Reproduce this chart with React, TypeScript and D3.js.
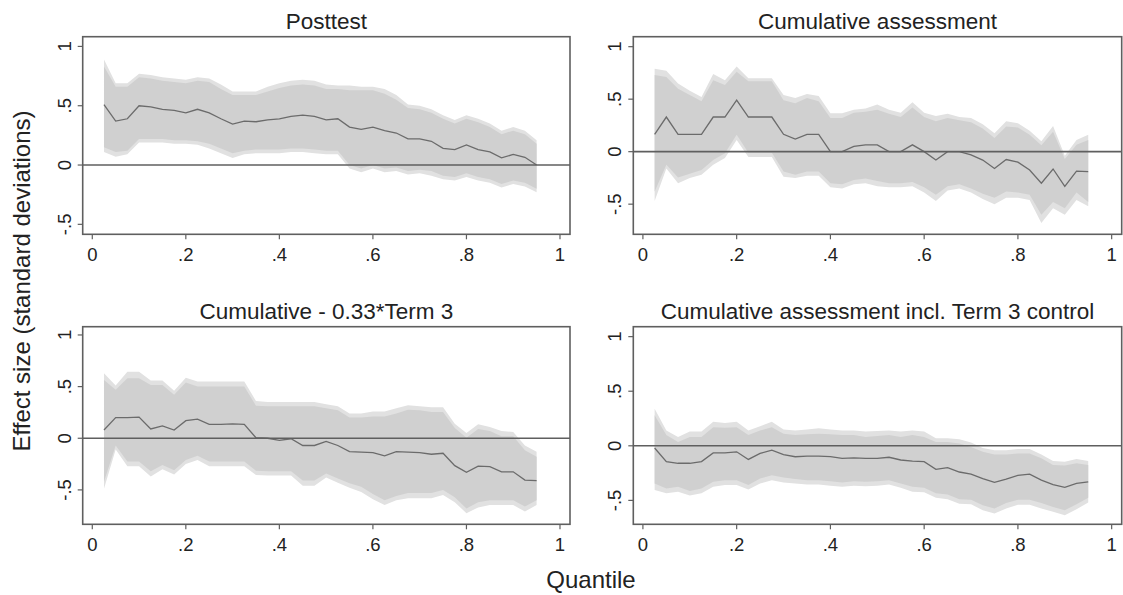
import React from "react";
import * as d3 from "d3";

// quantile grid used in every panel
const quantiles = [
  0.025, 0.05, 0.075, 0.1, 0.125, 0.15, 0.175, 0.2, 0.225, 0.25,
  0.275, 0.3, 0.325, 0.35, 0.375, 0.4, 0.425, 0.45, 0.475, 0.5,
  0.525, 0.55, 0.575, 0.6, 0.625, 0.65, 0.675, 0.7, 0.725, 0.75,
  0.775, 0.8, 0.825, 0.85, 0.875, 0.9, 0.925, 0.95,
];

const panelTitles = [
  "Posttest",
  "Cumulative assessment",
  "Cumulative - 0.33*Term 3",
  "Cumulative assessment incl. Term 3 control",
];

// Posttest
const postEst = [0.51,0.37,0.39,0.5,0.49,0.47,0.46,0.44,0.47,0.44,0.39,0.345,0.37,0.365,0.38,0.39,0.41,0.42,0.41,0.38,0.39,0.32,0.3,0.32,0.29,0.27,0.22,0.22,0.2,0.14,0.13,0.17,0.13,0.11,0.06,0.09,0.065,0.0];
const postInnerHi = [0.83,0.66,0.66,0.74,0.73,0.71,0.7,0.69,0.71,0.7,0.64,0.59,0.59,0.59,0.62,0.65,0.67,0.68,0.67,0.64,0.64,0.63,0.63,0.63,0.6,0.55,0.48,0.47,0.44,0.39,0.35,0.39,0.36,0.32,0.26,0.29,0.26,0.18];
const postInnerLo = [0.15,0.11,0.12,0.22,0.22,0.22,0.21,0.21,0.2,0.18,0.14,0.1,0.12,0.13,0.13,0.13,0.14,0.14,0.13,0.12,0.12,0.0,-0.03,0.0,-0.03,-0.02,-0.05,-0.04,-0.05,-0.09,-0.1,-0.07,-0.1,-0.12,-0.16,-0.13,-0.15,-0.2];
const postOuterHi = [0.89,0.69,0.69,0.77,0.76,0.74,0.73,0.72,0.74,0.73,0.68,0.62,0.62,0.62,0.66,0.69,0.71,0.72,0.71,0.68,0.67,0.67,0.66,0.66,0.64,0.59,0.51,0.5,0.47,0.42,0.38,0.42,0.39,0.35,0.29,0.32,0.29,0.21];
const postOuterLo = [0.11,0.07,0.09,0.19,0.19,0.19,0.18,0.18,0.17,0.14,0.1,0.06,0.09,0.1,0.1,0.1,0.11,0.11,0.1,0.09,0.09,-0.03,-0.06,-0.03,-0.06,-0.05,-0.08,-0.07,-0.09,-0.12,-0.13,-0.1,-0.13,-0.15,-0.19,-0.16,-0.18,-0.23];

// Cumulative assessment
const cumEst = [0.165,0.33,0.165,0.165,0.165,0.33,0.33,0.49,0.33,0.33,0.33,0.165,0.12,0.165,0.165,0,0,0.05,0.065,0.065,0,0,0.065,0,-0.08,0,0,-0.03,-0.08,-0.16,-0.075,-0.1,-0.175,-0.3,-0.165,-0.33,-0.185,-0.19];
const cumInnerHi = [0.73,0.71,0.6,0.54,0.48,0.68,0.635,0.76,0.67,0.67,0.67,0.49,0.46,0.51,0.48,0.32,0.32,0.37,0.38,0.4,0.36,0.33,0.42,0.33,0.29,0.32,0.3,0.28,0.22,0.13,0.24,0.23,0.16,0.06,0.19,-0.07,0.065,0.11];
const cumInnerLo = [-0.38,-0.125,-0.245,-0.21,-0.175,-0.08,-0.015,0.16,-0.01,-0.01,-0.01,-0.19,-0.22,-0.19,-0.19,-0.3,-0.31,-0.27,-0.255,-0.28,-0.3,-0.3,-0.29,-0.34,-0.41,-0.33,-0.31,-0.35,-0.4,-0.44,-0.38,-0.39,-0.41,-0.6,-0.48,-0.54,-0.39,-0.48];
const cumOuterHi = [0.79,0.77,0.65,0.58,0.52,0.74,0.68,0.81,0.7,0.7,0.7,0.54,0.51,0.55,0.53,0.365,0.365,0.4,0.41,0.45,0.4,0.37,0.47,0.37,0.34,0.36,0.33,0.32,0.26,0.175,0.29,0.27,0.2,0.1,0.245,-0.04,0.11,0.16];
const cumOuterLo = [-0.47,-0.16,-0.3,-0.25,-0.22,-0.125,-0.06,0.11,-0.05,-0.05,-0.05,-0.24,-0.25,-0.23,-0.23,-0.34,-0.35,-0.31,-0.3,-0.33,-0.34,-0.34,-0.33,-0.39,-0.47,-0.37,-0.35,-0.39,-0.45,-0.5,-0.44,-0.44,-0.46,-0.68,-0.54,-0.6,-0.46,-0.52];

// Cumulative - 0.33*Term 3
const adjEst = [0.08,0.2,0.2,0.205,0.09,0.12,0.08,0.17,0.185,0.135,0.135,0.14,0.135,0.005,0,-0.02,-0.005,-0.07,-0.07,-0.03,-0.07,-0.13,-0.135,-0.14,-0.17,-0.13,-0.135,-0.14,-0.155,-0.145,-0.265,-0.33,-0.27,-0.275,-0.325,-0.325,-0.405,-0.41];
const adjInnerHi = [0.565,0.47,0.58,0.58,0.515,0.515,0.42,0.54,0.5,0.5,0.5,0.5,0.5,0.315,0.31,0.31,0.31,0.31,0.31,0.29,0.27,0.2,0.2,0.21,0.21,0.24,0.275,0.27,0.255,0.255,0.1,0.005,0.09,0.07,0.02,0.02,-0.115,-0.18];
const adjInnerLo = [-0.42,-0.07,-0.225,-0.225,-0.32,-0.26,-0.31,-0.21,-0.17,-0.225,-0.225,-0.225,-0.225,-0.315,-0.32,-0.32,-0.32,-0.41,-0.41,-0.34,-0.39,-0.435,-0.47,-0.54,-0.6,-0.56,-0.53,-0.53,-0.53,-0.5,-0.57,-0.68,-0.62,-0.6,-0.6,-0.6,-0.66,-0.6];
const adjOuterHi = [0.63,0.51,0.645,0.645,0.56,0.56,0.46,0.585,0.55,0.55,0.55,0.55,0.55,0.36,0.35,0.35,0.35,0.35,0.35,0.33,0.31,0.24,0.24,0.26,0.26,0.29,0.32,0.31,0.3,0.3,0.14,0.05,0.135,0.11,0.07,0.06,-0.07,-0.13];
const adjOuterLo = [-0.49,-0.11,-0.27,-0.27,-0.37,-0.3,-0.35,-0.25,-0.21,-0.27,-0.27,-0.27,-0.27,-0.355,-0.36,-0.36,-0.36,-0.46,-0.46,-0.38,-0.43,-0.48,-0.52,-0.59,-0.645,-0.6,-0.58,-0.58,-0.58,-0.55,-0.62,-0.725,-0.67,-0.645,-0.645,-0.645,-0.71,-0.645];

// Cumulative assessment incl. Term 3 control
const ctlEst = [-0.02,-0.145,-0.16,-0.16,-0.145,-0.065,-0.065,-0.055,-0.125,-0.07,-0.04,-0.08,-0.1,-0.095,-0.095,-0.1,-0.115,-0.11,-0.115,-0.115,-0.105,-0.13,-0.14,-0.145,-0.215,-0.2,-0.24,-0.26,-0.3,-0.335,-0.305,-0.27,-0.26,-0.315,-0.355,-0.38,-0.345,-0.33];
const ctlInnerHi = [0.28,0.1,0.035,0.08,0.08,0.17,0.165,0.17,0.1,0.14,0.17,0.11,0.1,0.105,0.11,0.105,0.1,0.1,0.08,0.09,0.1,0.08,0.1,0.08,0.035,0.035,0.02,-0.01,-0.055,-0.08,-0.08,-0.07,-0.07,-0.115,-0.175,-0.18,-0.16,-0.175];
const ctlInnerLo = [-0.345,-0.39,-0.375,-0.415,-0.39,-0.33,-0.315,-0.315,-0.36,-0.3,-0.27,-0.29,-0.305,-0.315,-0.315,-0.325,-0.335,-0.325,-0.33,-0.325,-0.315,-0.345,-0.375,-0.385,-0.435,-0.445,-0.49,-0.495,-0.545,-0.575,-0.525,-0.495,-0.495,-0.525,-0.56,-0.59,-0.535,-0.475];
const ctlOuterHi = [0.34,0.14,0.08,0.13,0.13,0.22,0.21,0.22,0.14,0.18,0.22,0.15,0.14,0.15,0.16,0.15,0.14,0.14,0.13,0.135,0.14,0.13,0.14,0.13,0.07,0.07,0.06,0.03,-0.02,-0.04,-0.04,-0.03,-0.03,-0.08,-0.14,-0.145,-0.12,-0.14];
const ctlOuterLo = [-0.405,-0.435,-0.42,-0.455,-0.435,-0.375,-0.36,-0.36,-0.4,-0.345,-0.315,-0.335,-0.345,-0.355,-0.355,-0.365,-0.375,-0.365,-0.37,-0.365,-0.355,-0.385,-0.42,-0.425,-0.475,-0.49,-0.53,-0.535,-0.59,-0.62,-0.575,-0.54,-0.54,-0.575,-0.605,-0.635,-0.58,-0.52];

const xTicks = [0, 0.2, 0.4, 0.6, 0.8, 1];
const xTickLabels = ["0", ".2", ".4", ".6", ".8", "1"];
const yTicks = [-0.5, 0, 0.5, 1];
const yTickLabels = ["-.5", "0", ".5", "1"];
const xRange = [-0.0205, 1.0214];
const yRanges = [
  [-0.584, 1.082],
  [-0.787, 1.095],
  [-0.833, 1.08],
  [-0.719, 1.091],
];

const panelData = [
  { est: postEst, iLo: postInnerLo, iHi: postInnerHi, oLo: postOuterLo, oHi: postOuterHi },
  { est: cumEst, iLo: cumInnerLo, iHi: cumInnerHi, oLo: cumOuterLo, oHi: cumOuterHi },
  { est: adjEst, iLo: adjInnerLo, iHi: adjInnerHi, oLo: adjOuterLo, oHi: adjOuterHi },
  { est: ctlEst, iLo: ctlInnerLo, iHi: ctlInnerHi, oLo: ctlOuterLo, oHi: ctlOuterHi },
];

const W = 1123;
const H = 595;
const FONT = "'Liberation Sans', Arial, sans-serif";
const colX = [[82.7, 570], [633.3, 1121.7]];
const rowY = [[36.7, 234.3], [326.7, 524.3]];

const FRAME = "#5f5f5f";

function Panel({ idx }: { idx: number }) {
  const [x0, x1] = colX[idx % 2];
  const [y0, y1] = rowY[Math.floor(idx / 2)];
  const d = panelData[idx];
  const x = d3.scaleLinear().domain(xRange).range([x0, x1]);
  const y = d3.scaleLinear().domain(yRanges[idx]).range([y1, y0]);

  const outer = d3
    .area<number>()
    .x((q) => x(q))
    .y0((_, i) => y(d.oLo[i]))
    .y1((_, i) => y(d.oHi[i]));
  const inner = d3
    .area<number>()
    .x((q) => x(q))
    .y0((_, i) => y(d.iLo[i]))
    .y1((_, i) => y(d.iHi[i]));
  const line = d3
    .line<number>()
    .x((q) => x(q))
    .y((_, i) => y(d.est[i]));

  return (
    <g>
      <text
        x={(x0 + x1) / 2}
        y={y0 - 7.5}
        textAnchor="middle"
        fontSize={22.5}
        fill="#222"
        fontFamily={FONT}
      >
        {panelTitles[idx]}
      </text>
      <path d={outer(quantiles) || ""} fill="#e1e1e1" stroke="none" />
      <path d={inner(quantiles) || ""} fill="#d0d0d0" stroke="none" />
      <path d={line(quantiles) || ""} fill="none" stroke="#6b6b6b" strokeWidth={1.3} />
      <line x1={x0} x2={x1} y1={y(0)} y2={y(0)} stroke={FRAME} strokeWidth={1.6} />
      <rect x={x0} y={y0} width={x1 - x0} height={y1 - y0} fill="none" stroke={FRAME} strokeWidth={1.6} />
      {xTicks.map((t, i) => (
        <g key={"x" + i}>
          <line x1={x(t)} x2={x(t)} y1={y1} y2={y1 + 5} stroke={FRAME} strokeWidth={1.2} />
          <text x={x(t)} y={y1 + 27} textAnchor="middle" fontSize={18.5} fill="#222" fontFamily={FONT}>
            {xTickLabels[i]}
          </text>
        </g>
      ))}
      {yTicks.map((t, i) => (
        <g key={"y" + i}>
          <line x1={x0 - 5} x2={x0} y1={y(t)} y2={y(t)} stroke={FRAME} strokeWidth={1.2} />
          <text
            transform={`translate(${x0 - 12},${y(t)}) rotate(-90)`}
            textAnchor="middle"
            fontSize={18.5}
            fill="#222"
            fontFamily={FONT}
          >
            {yTickLabels[i]}
          </text>
        </g>
      ))}
    </g>
  );
}

export default function App() {
  return (
    <div style={{ position: "absolute", left: 0, top: 0 }}>
      <svg width={W} height={H} style={{ display: "block", background: "#fff" }}>
        {[0, 1, 2, 3].map((i) => (
          <Panel key={i} idx={i} />
        ))}
        <text
          transform={`translate(30,281) rotate(-90)`}
          textAnchor="middle"
          fontSize={24}
          fill="#222"
          fontFamily={FONT}
        >
          Effect size (standard deviations)
        </text>
        <text x={591} y={588} textAnchor="middle" fontSize={24} fill="#222" fontFamily={FONT}>
          Quantile
        </text>
      </svg>
    </div>
  );
}
